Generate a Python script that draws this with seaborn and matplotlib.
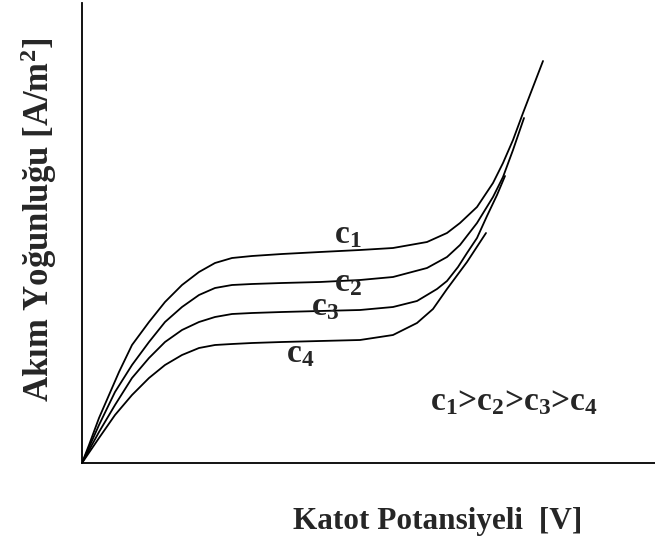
import seaborn as sns
import matplotlib.pyplot as plt
import pandas as pd

# Egriler (keyfi birim)
c1_x = [0, 7, 17, 27, 37, 50, 67, 83, 100, 117, 133, 150, 170, 200, 238, 278, 311, 345, 365, 378, 395, 411, 421, 431, 441, 451, 461]
c1_y = [0, 18, 45, 68, 91, 118, 141, 161, 178, 191, 200, 205, 207, 209, 211, 213, 215, 221, 230, 240, 256, 280, 300, 323, 350, 376, 402]
c2_x = [0, 17, 33, 50, 67, 83, 100, 117, 133, 150, 170, 200, 238, 278, 311, 345, 365, 378, 395, 411, 421, 431, 442]
c2_y = [0, 38, 71, 98, 121, 141, 156, 168, 175, 178, 179, 180, 181, 183, 186, 195, 206, 218, 240, 266, 286, 313, 345]
c3_x = [0, 17, 33, 50, 67, 83, 100, 117, 133, 150, 170, 200, 238, 278, 311, 335, 355, 365, 376, 385, 395, 405, 415, 423]
c3_y = [0, 31, 58, 85, 105, 121, 133, 141, 146, 149, 150, 151, 152, 153, 156, 162, 174, 182, 196, 210, 225, 247, 268, 287]
c4_x = [0, 17, 33, 50, 67, 83, 100, 117, 133, 150, 170, 200, 238, 278, 311, 335, 351, 365, 385, 404]
c4_y = [0, 25, 48, 68, 85, 98, 108, 115, 118, 119, 120, 121, 122, 123, 128, 140, 154, 174, 201, 230]

etiketler = [r"c$_\mathbf{1}$", r"c$_\mathbf{2}$", r"c$_\mathbf{3}$", r"c$_\mathbf{4}$"]
etiket_x = [266, 266, 243, 218]
etiket_y = [228, 180, 156, 109]

sns.set_style("white")
plt.rcParams['font.family'] = ['Liberation Serif', 'DejaVu Serif']
plt.rcParams['font.weight'] = 'bold'
plt.rcParams['mathtext.fontset'] = 'custom'
plt.rcParams['mathtext.rm'] = 'Liberation Serif:weight=bold'
plt.rcParams['mathtext.it'] = 'Liberation Serif:weight=bold'
plt.rcParams['mathtext.bf'] = 'Liberation Serif:weight=bold'

fig = plt.figure(figsize=(6.55, 5.44), dpi=100)
ax = fig.add_axes([82/655, 81/544, 573/655, 460/544])

egriler = [(c1_x, c1_y), (c2_x, c2_y), (c3_x, c3_y), (c4_x, c4_y)]
for xs, ys in egriler:
    df = pd.DataFrame({"x": xs, "y": ys})
    sns.lineplot(data=df, x="x", y="y", sort=False, color="black", linewidth=1.3,
                 ax=ax, solid_joinstyle="round")

for t, x, y in zip(etiketler, etiket_x, etiket_y):
    ax.text(x, y, t, fontsize=24, ha="center", va="center")
ax.text(432, 61, r"c$_\mathbf{1}$>c$_\mathbf{2}$>c$_\mathbf{3}$>c$_\mathbf{4}$",
        fontsize=24, ha="center", va="center")

ax.set_xlim(0, 573)
ax.set_ylim(0, 460)
ax.set_xticks([])
ax.set_yticks([])
sns.despine(ax=ax)
for s in ["left", "bottom"]:
    ax.spines[s].set_linewidth(1.3)
    ax.spines[s].set_color("black")

ax.set_xlabel("Katot Potansiyeli  [V]", fontsize=22.5, fontweight="bold")
ax.xaxis.set_label_coords(0.62, -0.095)
ax.set_ylabel(r"Akım Yoğunluğu [A/m$^\mathbf{2}$]", fontsize=25, fontweight="bold")
ax.yaxis.set_label_coords(-0.04, 0.528)

plt.savefig("out.png", dpi=100)
